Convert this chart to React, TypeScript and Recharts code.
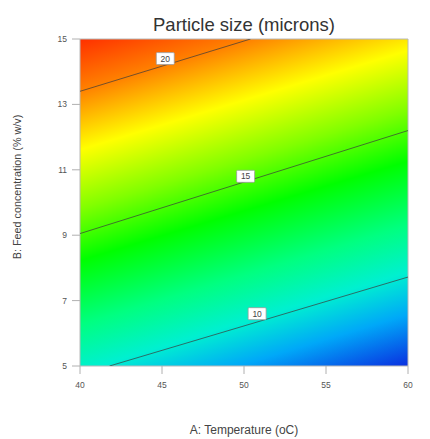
import { ComposedChart, Line, XAxis, YAxis, ReferenceArea, ReferenceDot } from 'recharts';

// axis ticks
const xTicks = [40, 45, 50, 55, 60];
const yTicks = [5, 7, 9, 11, 13, 15];

// contour lines (A: temperature, B: feed concentration)
const contour20 = [{ x: 40, y: 13.4 }, { x: 50.4, y: 15 }];
const contour15 = [{ x: 40, y: 9.05 }, { x: 60, y: 12.2 }];
const contour10 = [{ x: 41.8, y: 5 }, { x: 60, y: 7.72 }];

// contour labels
const labelX = [45.2, 50.1, 50.8];
const labelY = [14.4, 10.8, 6.6];
const labelText = ['20', '15', '10'];

const FONT = '"Liberation Sans", Arial, sans-serif';

function ContourTag(props: any) {
  const { cx, cy, text } = props;
  return (
    <g>
      <rect x={cx - 9} y={cy - 6} width={18} height={12} fill="#fff" stroke="#9a9a9a" strokeWidth={0.8} rx={1} />
      <text x={cx} y={cy + 3} textAnchor="middle" fontSize={8.5} fontFamily={FONT} fill="#444">{text}</text>
    </g>
  );
}

export default function App() {
  return (
    <div style={{ position: 'absolute', left: 0, top: 0, width: 430, height: 439, background: '#fff', fontFamily: FONT }}>
      <div style={{ position: 'absolute', left: 80, width: 328, top: 14, textAlign: 'center', fontSize: 18.5, color: '#333', lineHeight: '22px' }}>
        Particle size (microns)
      </div>
      <div style={{ position: 'absolute', left: 80, width: 328, top: 423, textAlign: 'center', fontSize: 12, color: '#444', lineHeight: '14px' }}>
        A: Temperature (oC)
      </div>
      <div style={{ position: 'absolute', left: 17, top: 187, width: 0, height: 0 }}>
        <div style={{ position: 'absolute', transform: 'translate(-50%, -50%) rotate(-90deg)', whiteSpace: 'nowrap', fontSize: 10.8, color: '#444' }}>
          B: Feed concentration (% w/v)
        </div>
      </div>
      <ComposedChart
        width={430}
        height={439}
        margin={{ top: 39, right: 22, left: 50, bottom: 43 }}
        style={{ position: 'absolute', left: 0, top: 0 }}
      >
        <defs>
          <linearGradient id="psGrad" x1="0" y1="0" x2="0.362" y2="1.193">
            <stop offset="0" stopColor="#ff3000" />
            <stop offset="0.12" stopColor="#ff8000" />
            <stop offset="0.26" stopColor="#ffff00" />
            <stop offset="0.40" stopColor="#80ff00" />
            <stop offset="0.52" stopColor="#00ff00" />
            <stop offset="0.67" stopColor="#00ff80" />
            <stop offset="0.78" stopColor="#00f0d0" />
            <stop offset="0.88" stopColor="#00a8f8" />
            <stop offset="1" stopColor="#0a30e0" />
          </linearGradient>
        </defs>
        <XAxis
          dataKey="x"
          type="number"
          domain={[40, 60]}
          ticks={xTicks}
          height={30}
          axisLine={false}
          tickLine={{ stroke: '#b0b0b0' }}
          tickSize={8}
          tickMargin={8}
          tick={{ fill: '#555', fontSize: 8.5, fontFamily: FONT }}
          allowDataOverflow
        />
        <YAxis
          dataKey="y"
          type="number"
          domain={[5, 15]}
          ticks={yTicks}
          width={30}
          axisLine={false}
          tickLine={{ stroke: '#b0b0b0' }}
          tickSize={8}
          tickMargin={5}
          tick={{ fill: '#555', fontSize: 8.5, fontFamily: FONT }}
          allowDataOverflow
        />
        <ReferenceArea x1={40} x2={60} y1={5} y2={15} fill="url(#psGrad)" fillOpacity={1} stroke="#b8b8b8" strokeWidth={1} />
        <Line data={contour20} dataKey="y" stroke="#3a3a3a" strokeOpacity={0.7} strokeWidth={1} dot={false} isAnimationActive={false} />
        <Line data={contour15} dataKey="y" stroke="#3a3a3a" strokeOpacity={0.7} strokeWidth={1} dot={false} isAnimationActive={false} />
        <Line data={contour10} dataKey="y" stroke="#3a3a3a" strokeOpacity={0.7} strokeWidth={1} dot={false} isAnimationActive={false} />
        {labelText.map((t, i) => (
          <ReferenceDot
            key={t}
            x={labelX[i]}
            y={labelY[i]}
            r={0}
            shape={(p: any) => <ContourTag cx={p.cx} cy={p.cy} text={t} />}
          />
        ))}
      </ComposedChart>
    </div>
  );
}
